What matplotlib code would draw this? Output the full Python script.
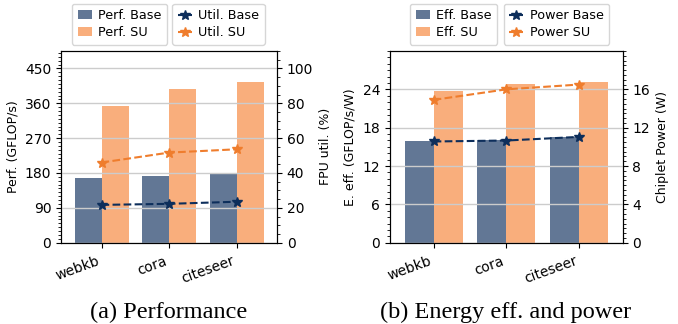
import matplotlib
matplotlib.use("Agg")
import matplotlib.pyplot as plt
import matplotlib.transforms as mtransforms
import numpy as np
from matplotlib.ticker import MultipleLocator

categories = ["webkb", "cora", "citeseer"]

perf_base = [166, 172, 181]
perf_su = [352, 396, 415]
util_base = [21.7, 22.3, 23.5]
util_su = [46.0, 51.7, 53.6]

eff_base = [15.9, 16.05, 16.5]
eff_su = [23.75, 24.8, 25.2]
power_base = [10.56, 10.66, 11.04]
power_su = [14.9, 16.0, 16.5]

C_BASE_BAR = "#627795"
C_SU_BAR = "#f9ae7c"
C_BASE_LINE = "#0d2e5b"
C_SU_LINE = "#ef7d2d"
GRID = "#cccccc"

W, H = 678, 324
fig = plt.figure(figsize=(W / 100, H / 100), dpi=100)

TICK_FS = 10
LAB_FS = 9
LEG_FS = 9.2


def make_panel(rect, bars_b, bars_s, line_b, line_s, ylim1, yticks1, minor1,
               ylim2, yticks2, minor2, ylab1, ylab2, labels, leg_centers, caption, cap_x):
    ax = fig.add_axes(rect)
    x = np.arange(len(categories))
    w = 0.4
    b1 = ax.bar(x - w / 2, bars_b, width=w, color=C_BASE_BAR, label=labels[0], zorder=1)
    b2 = ax.bar(x + w / 2, bars_s, width=w, color=C_SU_BAR, label=labels[1], zorder=1)
    ax.set_xlim(-0.6, 2.6)
    ax.set_ylim(*ylim1)
    ax.set_yticks(yticks1)
    ax.yaxis.set_minor_locator(MultipleLocator(minor1))
    ax.grid(axis="y", color=GRID, lw=1.0, zorder=2)
    ax.set_axisbelow(False)
    ax.set_xticks(x)
    ax.set_xticklabels(categories, rotation=20, ha="right", fontsize=TICK_FS)
    offset = mtransforms.ScaledTranslation(0.06, -0.01, fig.dpi_scale_trans)
    for lab in ax.get_xticklabels():
        lab.set_transform(lab.get_transform() + offset)
    ax.tick_params(axis="y", labelsize=TICK_FS)
    ax.tick_params(axis="x", pad=4.5)
    ax.set_ylabel(ylab1, fontsize=LAB_FS)

    ax2 = ax.twinx()
    l1, = ax2.plot(x, line_b, ls="--", marker="*", color=C_BASE_LINE, ms=7.5, lw=1.5, label=labels[2])
    l2, = ax2.plot(x, line_s, ls="--", marker="*", color=C_SU_LINE, ms=7.5, lw=1.5, label=labels[3])
    ax2.set_ylim(*ylim2)
    ax2.set_yticks(yticks2)
    ax2.yaxis.set_minor_locator(MultipleLocator(minor2))
    ax2.tick_params(axis="y", labelsize=TICK_FS)
    ax2.set_ylabel(ylab2, fontsize=LAB_FS)

    y_leg = (H - 45) / H
    kw = dict(loc="lower center", bbox_transform=fig.transFigure, borderaxespad=0,
              fontsize=LEG_FS, handlelength=1.1, handletextpad=0.5, ncol=1,
              labelspacing=0.3, borderpad=0.45)
    fig.legend(handles=[b1, b2], bbox_to_anchor=(leg_centers[0] / W, y_leg), **kw)
    fig.legend(handles=[l1, l2], bbox_to_anchor=(leg_centers[1] / W, y_leg), **kw)

    fig.text(cap_x / W, (H - 312) / H, caption, ha="center", va="center",
             fontsize=17.5, family="Liberation Serif")
    return ax, ax2


bottom = (H - 242.7) / H
height = 191.7 / H

make_panel([61 / W, bottom, 216 / W, height], perf_base, perf_su, util_base, util_su,
           (0, 495), [0, 90, 180, 270, 360, 450], 10,
           (0, 110), [0, 20, 40, 60, 80, 100], 5,
           "Perf. (GFLOP/s)", "FPU util. (%)",
           ["Perf. Base", "Perf. SU", "Util. Base", "Util. SU"],
           (119.5, 218.5), "(a) Performance", 169)

make_panel([390 / W, bottom, 232.7 / W, height], eff_base, eff_su, power_base, power_su,
           (0, 30), [0, 6, 12, 18, 24], 1,
           (0, 20), [0, 4, 8, 12, 16], 0.5,
           "E. eff. (GFLOP/s/W)", "Chiplet Power (W)",
           ["Eff. Base", "Eff. SU", "Power Base", "Power SU"],
           (453.5, 556.5), "(b) Energy eff. and power", 506)

fig.savefig("out.png", dpi=100)
